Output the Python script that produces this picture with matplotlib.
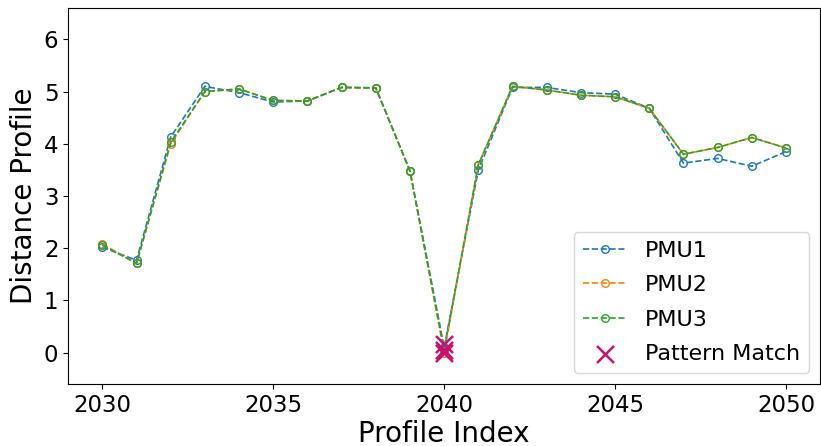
import matplotlib
matplotlib.use("Agg")
import matplotlib.pyplot as plt
import numpy as np

profile_index = list(range(2030, 2051))
pmu1 = [2.02, 1.77, 4.13, 5.10, 4.98, 4.80, 4.82, 5.08, 5.07, 3.48, 0.10,
        3.50, 5.08, 5.08, 4.98, 4.95, 4.68, 3.63, 3.72, 3.57, 3.85]
pmu2 = [2.08, 1.71, 4.00, 5.00, 5.05, 4.83, 4.82, 5.08, 5.07, 3.48, 0.00,
        3.60, 5.10, 5.03, 4.93, 4.90, 4.68, 3.80, 3.93, 4.12, 3.92]
pmu3 = [2.06, 1.71, 4.03, 5.00, 5.05, 4.83, 4.82, 5.08, 5.07, 3.48, 0.05,
        3.60, 5.10, 5.03, 4.93, 4.90, 4.68, 3.80, 3.93, 4.12, 3.92]
series_names = ["PMU1", "PMU2", "PMU3"]
match_index = [2040, 2040, 2040]
match_values = [0.17, 0.0, 0.05]

fig, ax = plt.subplots(figsize=(8.21, 4.46), dpi=100)
fig.subplots_adjust(left=0.083, right=0.999, top=0.982, bottom=0.139)

for name, vals in zip(series_names, [pmu1, pmu2, pmu3]):
    ax.plot(profile_index, vals, "--o", fillstyle="none", markersize=5.5,
            linewidth=1.2, label=name)

ax.scatter(match_index, match_values, marker="x", s=150, color="#c8106e",
           linewidths=1.8, zorder=5, label="Pattern Match")

ax.set_xlim(2029, 2051)
ax.set_ylim(-0.6, 6.6)
ax.set_xticks([2030, 2035, 2040, 2045, 2050])
ax.tick_params(labelsize=16.5)
ax.set_xlabel("Profile Index", fontsize=20, labelpad=2)
ax.set_ylabel("Distance Profile", fontsize=20)
ax.legend(loc="lower right", fontsize=16, labelspacing=0.65)

fig.savefig("out.png", dpi=100)
